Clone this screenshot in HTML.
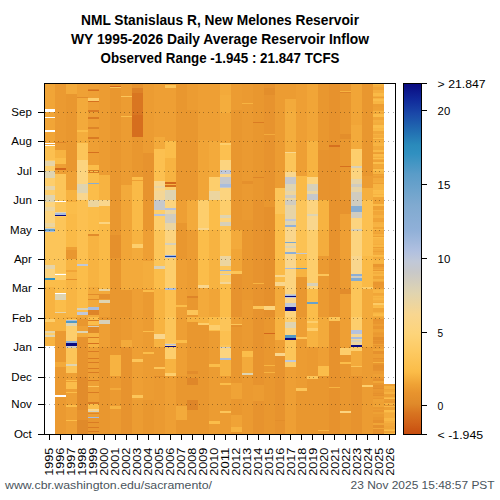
<!DOCTYPE html>
<html><head><meta charset="utf-8"><style>
html,body{margin:0;padding:0;background:#fff;width:500px;height:500px;overflow:hidden}
svg{display:block}
text{font-family:"Liberation Sans",sans-serif}
</style></head><body>
<svg width="500" height="500" viewBox="0 0 500 500" shape-rendering="crispEdges">
<defs><linearGradient id="cb" x1="0" y1="1" x2="0" y2="0"><stop offset="0.0000" stop-color="#c64c0e"/><stop offset="0.0292" stop-color="#d06018"/><stop offset="0.0607" stop-color="#d87420"/><stop offset="0.0881" stop-color="#e08a2a"/><stop offset="0.1196" stop-color="#e8942e"/><stop offset="0.1427" stop-color="#efa235"/><stop offset="0.1784" stop-color="#fbbc48"/><stop offset="0.2373" stop-color="#fdca62"/><stop offset="0.2877" stop-color="#fdd47a"/><stop offset="0.3423" stop-color="#f8d690"/><stop offset="0.4033" stop-color="#e0d4b0"/><stop offset="0.4621" stop-color="#c8c8c8"/><stop offset="0.4937" stop-color="#c0c8d8"/><stop offset="0.5231" stop-color="#b0c0e0"/><stop offset="0.5819" stop-color="#90b0d8"/><stop offset="0.6534" stop-color="#80aad0"/><stop offset="0.7416" stop-color="#5a9cc8"/><stop offset="0.8005" stop-color="#3090c0"/><stop offset="0.8257" stop-color="#2a8abb"/><stop offset="0.8719" stop-color="#2068b0"/><stop offset="0.9140" stop-color="#1a48a8"/><stop offset="0.9560" stop-color="#10289a"/><stop offset="1.0000" stop-color="#0a0a80"/></linearGradient></defs>
<rect x="0" y="0" width="500" height="500" fill="#fff"/>
<g shape-rendering="crispEdges">
<rect x="45" y="83" width="10" height="26" fill="#f1a537"/>
<rect x="45" y="109" width="10" height="3" fill="#ffffff"/>
<rect x="45" y="112" width="10" height="5" fill="#f1a537"/>
<rect x="45" y="117" width="10" height="1" fill="#ffffff"/>
<rect x="45" y="118" width="10" height="12" fill="#f1a537"/>
<rect x="45" y="130" width="10" height="2" fill="#ffffff"/>
<rect x="45" y="132" width="10" height="11" fill="#f1a537"/>
<rect x="45" y="143" width="10" height="1" fill="#ffffff"/>
<rect x="45" y="144" width="10" height="1" fill="#f1a537"/>
<rect x="45" y="145" width="10" height="1" fill="#ffffff"/>
<rect x="45" y="146" width="10" height="14" fill="#fcc050"/>
<rect x="45" y="160" width="10" height="1" fill="#fdce6c"/>
<rect x="45" y="161" width="10" height="5" fill="#e6d4a8"/>
<rect x="45" y="166" width="10" height="5" fill="#fdce6c"/>
<rect x="45" y="171" width="10" height="7" fill="#dfd4b1"/>
<rect x="45" y="178" width="10" height="8" fill="#fdce6c"/>
<rect x="45" y="186" width="10" height="4" fill="#e6d4a8"/>
<rect x="45" y="190" width="10" height="5" fill="#fdce6c"/>
<rect x="45" y="195" width="10" height="7" fill="#dfd4b1"/>
<rect x="45" y="202" width="10" height="5" fill="#fcd47f"/>
<rect x="45" y="207" width="10" height="4" fill="#ecd59f"/>
<rect x="45" y="211" width="10" height="12" fill="#fcd47f"/>
<rect x="45" y="223" width="10" height="4" fill="#ecd59f"/>
<rect x="45" y="227" width="10" height="1" fill="#fdce6c"/>
<rect x="45" y="228" width="10" height="1" fill="#d0ccc0"/>
<rect x="45" y="229" width="10" height="2" fill="#67a1cb"/>
<rect x="45" y="231" width="10" height="1" fill="#a9bdde"/>
<rect x="45" y="232" width="10" height="33" fill="#fcc559"/>
<rect x="45" y="265" width="10" height="4" fill="#e6d4a8"/>
<rect x="45" y="269" width="10" height="9" fill="#fcd47f"/>
<rect x="45" y="278" width="10" height="2" fill="#3391c1"/>
<rect x="45" y="280" width="10" height="7" fill="#fbbd4a"/>
<rect x="45" y="287" width="10" height="32" fill="#f7b341"/>
<rect x="45" y="319" width="10" height="3" fill="#fdce6c"/>
<rect x="45" y="322" width="10" height="9" fill="#f7b341"/>
<rect x="45" y="331" width="10" height="2" fill="#e6d4a8"/>
<rect x="45" y="333" width="10" height="2" fill="#fdce6c"/>
<rect x="45" y="335" width="10" height="2" fill="#dfd4b1"/>
<rect x="45" y="337" width="10" height="9" fill="#f7b341"/>
<rect x="45" y="346" width="10" height="88" fill="#ffffff"/>
<rect x="55" y="83" width="11" height="59" fill="#eb9a31"/>
<rect x="55" y="142" width="11" height="1" fill="#de8528"/>
<rect x="55" y="143" width="11" height="7" fill="#eb9a31"/>
<rect x="55" y="150" width="11" height="8" fill="#f7b341"/>
<rect x="55" y="158" width="11" height="6" fill="#fbbd4a"/>
<rect x="55" y="164" width="11" height="4" fill="#ee9f34"/>
<rect x="55" y="168" width="11" height="2" fill="#d3671b"/>
<rect x="55" y="170" width="11" height="4" fill="#ee9f34"/>
<rect x="55" y="174" width="11" height="27" fill="#fcc559"/>
<rect x="55" y="201" width="11" height="1" fill="#ffffff"/>
<rect x="55" y="202" width="11" height="10" fill="#fcc559"/>
<rect x="55" y="212" width="11" height="1" fill="#dfd4b1"/>
<rect x="55" y="213" width="11" height="2" fill="#a9bdde"/>
<rect x="55" y="215" width="11" height="1" fill="#0a0a80"/>
<rect x="55" y="216" width="11" height="1" fill="#fdce6c"/>
<rect x="55" y="217" width="11" height="56" fill="#fcc559"/>
<rect x="55" y="273" width="11" height="1" fill="#fdce6c"/>
<rect x="55" y="274" width="11" height="1" fill="#ffffff"/>
<rect x="55" y="275" width="11" height="5" fill="#fdce6c"/>
<rect x="55" y="280" width="11" height="13" fill="#fbbd4a"/>
<rect x="55" y="293" width="11" height="1" fill="#ffffff"/>
<rect x="55" y="294" width="11" height="6" fill="#dfd4b1"/>
<rect x="55" y="300" width="11" height="12" fill="#fbbd4a"/>
<rect x="55" y="312" width="11" height="1" fill="#e6d4a8"/>
<rect x="55" y="313" width="11" height="18" fill="#f7b341"/>
<rect x="55" y="331" width="11" height="31" fill="#eb9a31"/>
<rect x="55" y="362" width="11" height="5" fill="#f3aa3b"/>
<rect x="55" y="367" width="11" height="28" fill="#eb9a31"/>
<rect x="55" y="395" width="11" height="2" fill="#ffffff"/>
<rect x="55" y="397" width="11" height="37" fill="#eb9a31"/>
<rect x="66" y="83" width="11" height="11" fill="#f3aa3b"/>
<rect x="66" y="94" width="11" height="77" fill="#e9972f"/>
<rect x="66" y="171" width="11" height="19" fill="#efa135"/>
<rect x="66" y="190" width="11" height="10" fill="#f7b341"/>
<rect x="66" y="200" width="11" height="2" fill="#f4ad3d"/>
<rect x="66" y="202" width="11" height="12" fill="#fbbd4a"/>
<rect x="66" y="214" width="11" height="33" fill="#faba47"/>
<rect x="66" y="247" width="11" height="3" fill="#ee9f34"/>
<rect x="66" y="250" width="11" height="9" fill="#e9972f"/>
<rect x="66" y="259" width="11" height="11" fill="#f8b543"/>
<rect x="66" y="270" width="11" height="2" fill="#f1a537"/>
<rect x="66" y="272" width="11" height="7" fill="#f8b543"/>
<rect x="66" y="279" width="11" height="1" fill="#e5902c"/>
<rect x="66" y="280" width="11" height="37" fill="#f8b543"/>
<rect x="66" y="317" width="11" height="2" fill="#f3aa3b"/>
<rect x="66" y="319" width="11" height="1" fill="#fcc559"/>
<rect x="66" y="320" width="11" height="1" fill="#a9bdde"/>
<rect x="66" y="321" width="11" height="2" fill="#5199c6"/>
<rect x="66" y="323" width="11" height="3" fill="#dfd4b1"/>
<rect x="66" y="326" width="11" height="15" fill="#fdce6c"/>
<rect x="66" y="341" width="11" height="2" fill="#92b1d9"/>
<rect x="66" y="343" width="11" height="3" fill="#0a0a80"/>
<rect x="66" y="346" width="11" height="2" fill="#d0ccc0"/>
<rect x="66" y="348" width="11" height="16" fill="#fcc559"/>
<rect x="66" y="364" width="11" height="2" fill="#dfd4b1"/>
<rect x="66" y="366" width="11" height="7" fill="#fcc559"/>
<rect x="66" y="373" width="11" height="7" fill="#ee9f34"/>
<rect x="66" y="380" width="11" height="1" fill="#fbbd4a"/>
<rect x="66" y="381" width="11" height="1" fill="#ee9f34"/>
<rect x="66" y="382" width="11" height="7" fill="#fbbd4a"/>
<rect x="66" y="389" width="11" height="3" fill="#ee9f34"/>
<rect x="66" y="392" width="11" height="1" fill="#fbbd4a"/>
<rect x="66" y="393" width="11" height="12" fill="#ee9f34"/>
<rect x="66" y="405" width="11" height="2" fill="#fbbd4a"/>
<rect x="66" y="407" width="11" height="13" fill="#ee9f34"/>
<rect x="66" y="420" width="11" height="1" fill="#fbbd4a"/>
<rect x="66" y="421" width="11" height="13" fill="#ee9f34"/>
<rect x="77" y="83" width="11" height="14" fill="#efa135"/>
<rect x="77" y="97" width="11" height="1" fill="#e28c2b"/>
<rect x="77" y="98" width="11" height="32" fill="#f3aa3b"/>
<rect x="77" y="130" width="11" height="2" fill="#fbbd4a"/>
<rect x="77" y="132" width="11" height="11" fill="#f4ad3d"/>
<rect x="77" y="143" width="11" height="17" fill="#fcc559"/>
<rect x="77" y="160" width="11" height="24" fill="#fcd47f"/>
<rect x="77" y="184" width="11" height="9" fill="#dfd4b1"/>
<rect x="77" y="193" width="11" height="7" fill="#f9d68d"/>
<rect x="77" y="200" width="11" height="64" fill="#fcc050"/>
<rect x="77" y="264" width="11" height="2" fill="#c0c8d8"/>
<rect x="77" y="266" width="11" height="42" fill="#fbbd4a"/>
<rect x="77" y="308" width="11" height="2" fill="#d7d0b9"/>
<rect x="77" y="310" width="11" height="2" fill="#fbbd4a"/>
<rect x="77" y="312" width="11" height="3" fill="#c0c8d8"/>
<rect x="77" y="315" width="11" height="2" fill="#f3aa3b"/>
<rect x="77" y="317" width="11" height="2" fill="#f1a537"/>
<rect x="77" y="319" width="11" height="7" fill="#e9972f"/>
<rect x="77" y="326" width="11" height="5" fill="#efa135"/>
<rect x="77" y="331" width="11" height="2" fill="#dfd4b1"/>
<rect x="77" y="333" width="11" height="4" fill="#f4ad3d"/>
<rect x="77" y="337" width="11" height="40" fill="#e7932e"/>
<rect x="77" y="377" width="11" height="33" fill="#e28c2b"/>
<rect x="77" y="410" width="11" height="10" fill="#e6912d"/>
<rect x="77" y="420" width="11" height="14" fill="#e08a2a"/>
<rect x="88" y="83" width="11" height="6" fill="#ee9f34"/>
<rect x="88" y="89" width="11" height="1" fill="#de8528"/>
<rect x="88" y="90" width="11" height="1" fill="#d6701e"/>
<rect x="88" y="91" width="11" height="7" fill="#ee9f34"/>
<rect x="88" y="98" width="11" height="3" fill="#fdce6c"/>
<rect x="88" y="101" width="11" height="1" fill="#d6701e"/>
<rect x="88" y="102" width="11" height="8" fill="#ee9f34"/>
<rect x="88" y="110" width="11" height="2" fill="#da7b23"/>
<rect x="88" y="112" width="11" height="5" fill="#ee9f34"/>
<rect x="88" y="117" width="11" height="2" fill="#da7b23"/>
<rect x="88" y="119" width="11" height="8" fill="#ee9f34"/>
<rect x="88" y="127" width="11" height="2" fill="#de8528"/>
<rect x="88" y="129" width="11" height="8" fill="#ee9f34"/>
<rect x="88" y="137" width="11" height="2" fill="#da7b23"/>
<rect x="88" y="139" width="11" height="13" fill="#ee9f34"/>
<rect x="88" y="152" width="11" height="1" fill="#d6701e"/>
<rect x="88" y="153" width="11" height="12" fill="#ee9f34"/>
<rect x="88" y="165" width="11" height="5" fill="#fbbd4a"/>
<rect x="88" y="170" width="11" height="1" fill="#da7b23"/>
<rect x="88" y="171" width="11" height="1" fill="#fbbd4a"/>
<rect x="88" y="172" width="11" height="1" fill="#da7b23"/>
<rect x="88" y="173" width="11" height="10" fill="#fbbd4a"/>
<rect x="88" y="183" width="11" height="1" fill="#87add3"/>
<rect x="88" y="184" width="11" height="16" fill="#fbbd4a"/>
<rect x="88" y="200" width="11" height="7" fill="#ecd59f"/>
<rect x="88" y="207" width="11" height="27" fill="#fbbd4a"/>
<rect x="88" y="234" width="11" height="2" fill="#e28c2b"/>
<rect x="88" y="236" width="11" height="51" fill="#f7b341"/>
<rect x="88" y="287" width="11" height="7" fill="#f3aa3b"/>
<rect x="88" y="294" width="11" height="1" fill="#e28c2b"/>
<rect x="88" y="295" width="11" height="4" fill="#f3aa3b"/>
<rect x="88" y="299" width="11" height="1" fill="#e28c2b"/>
<rect x="88" y="300" width="11" height="7" fill="#f3aa3b"/>
<rect x="88" y="307" width="11" height="3" fill="#a9bdde"/>
<rect x="88" y="310" width="11" height="5" fill="#de8528"/>
<rect x="88" y="315" width="11" height="2" fill="#f3aa3b"/>
<rect x="88" y="317" width="11" height="3" fill="#fbbd4a"/>
<rect x="88" y="320" width="11" height="1" fill="#da7b23"/>
<rect x="88" y="321" width="11" height="4" fill="#fbbd4a"/>
<rect x="88" y="325" width="11" height="1" fill="#ee9f34"/>
<rect x="88" y="326" width="11" height="1" fill="#d7d0b9"/>
<rect x="88" y="327" width="11" height="6" fill="#e08a2a"/>
<rect x="88" y="333" width="11" height="4" fill="#f7b341"/>
<rect x="88" y="337" width="11" height="1" fill="#da7b23"/>
<rect x="88" y="338" width="11" height="5" fill="#f7b341"/>
<rect x="88" y="343" width="11" height="1" fill="#d6701e"/>
<rect x="88" y="344" width="11" height="3" fill="#f7b341"/>
<rect x="88" y="347" width="11" height="4" fill="#ee9f34"/>
<rect x="88" y="351" width="11" height="1" fill="#da7b23"/>
<rect x="88" y="352" width="11" height="6" fill="#ee9f34"/>
<rect x="88" y="358" width="11" height="1" fill="#da7b23"/>
<rect x="88" y="359" width="11" height="3" fill="#ee9f34"/>
<rect x="88" y="362" width="11" height="1" fill="#da7b23"/>
<rect x="88" y="363" width="11" height="5" fill="#ee9f34"/>
<rect x="88" y="368" width="11" height="1" fill="#da7b23"/>
<rect x="88" y="369" width="11" height="3" fill="#ee9f34"/>
<rect x="88" y="372" width="11" height="1" fill="#da7b23"/>
<rect x="88" y="373" width="11" height="7" fill="#ee9f34"/>
<rect x="88" y="380" width="11" height="1" fill="#da7b23"/>
<rect x="88" y="381" width="11" height="5" fill="#ee9f34"/>
<rect x="88" y="386" width="11" height="1" fill="#fcc559"/>
<rect x="88" y="387" width="11" height="5" fill="#ee9f34"/>
<rect x="88" y="392" width="11" height="1" fill="#da7b23"/>
<rect x="88" y="393" width="11" height="9" fill="#ee9f34"/>
<rect x="88" y="402" width="11" height="2" fill="#da7b23"/>
<rect x="88" y="404" width="11" height="5" fill="#fbbd4a"/>
<rect x="88" y="409" width="11" height="2" fill="#f9d68d"/>
<rect x="88" y="411" width="11" height="1" fill="#d7d0b9"/>
<rect x="88" y="412" width="11" height="1" fill="#ee9f34"/>
<rect x="88" y="413" width="11" height="1" fill="#de8528"/>
<rect x="88" y="414" width="11" height="3" fill="#ee9f34"/>
<rect x="88" y="417" width="11" height="1" fill="#a9bdde"/>
<rect x="88" y="418" width="11" height="4" fill="#e9972f"/>
<rect x="88" y="422" width="11" height="1" fill="#da7b23"/>
<rect x="88" y="423" width="11" height="4" fill="#e9972f"/>
<rect x="88" y="427" width="11" height="1" fill="#da7b23"/>
<rect x="88" y="428" width="11" height="3" fill="#e9972f"/>
<rect x="88" y="431" width="11" height="1" fill="#da7b23"/>
<rect x="88" y="432" width="11" height="2" fill="#e9972f"/>
<rect x="99" y="83" width="11" height="92" fill="#ec9c32"/>
<rect x="99" y="175" width="11" height="25" fill="#f7b341"/>
<rect x="99" y="200" width="11" height="6" fill="#f9d68d"/>
<rect x="99" y="206" width="11" height="16" fill="#faba47"/>
<rect x="99" y="222" width="11" height="2" fill="#fcd47f"/>
<rect x="99" y="224" width="11" height="65" fill="#faba47"/>
<rect x="99" y="289" width="11" height="2" fill="#ecd59f"/>
<rect x="99" y="291" width="11" height="3" fill="#f3aa3b"/>
<rect x="99" y="294" width="11" height="5" fill="#e5902c"/>
<rect x="99" y="299" width="11" height="1" fill="#ee9f34"/>
<rect x="99" y="300" width="11" height="3" fill="#dfd4b1"/>
<rect x="99" y="303" width="11" height="14" fill="#ee9f34"/>
<rect x="99" y="317" width="11" height="3" fill="#e9972f"/>
<rect x="99" y="320" width="11" height="4" fill="#d7d0b9"/>
<rect x="99" y="324" width="11" height="23" fill="#ee9f34"/>
<rect x="99" y="347" width="11" height="87" fill="#e9972f"/>
<rect x="110" y="83" width="11" height="3" fill="#e9972f"/>
<rect x="110" y="86" width="11" height="1" fill="#d3671b"/>
<rect x="110" y="87" width="11" height="1" fill="#fcc559"/>
<rect x="110" y="88" width="11" height="147" fill="#e9972f"/>
<rect x="110" y="235" width="11" height="23" fill="#e5902c"/>
<rect x="110" y="258" width="11" height="97" fill="#e9972f"/>
<rect x="110" y="355" width="11" height="21" fill="#f7b341"/>
<rect x="110" y="376" width="11" height="12" fill="#eb9a31"/>
<rect x="110" y="388" width="11" height="2" fill="#f3aa3b"/>
<rect x="110" y="390" width="11" height="16" fill="#eb9a31"/>
<rect x="110" y="406" width="11" height="3" fill="#f7b341"/>
<rect x="110" y="409" width="11" height="25" fill="#eb9a31"/>
<rect x="121" y="83" width="11" height="13" fill="#ec9c32"/>
<rect x="121" y="96" width="11" height="1" fill="#fcc559"/>
<rect x="121" y="97" width="11" height="19" fill="#ec9c32"/>
<rect x="121" y="116" width="11" height="1" fill="#fbbd4a"/>
<rect x="121" y="117" width="11" height="68" fill="#ec9c32"/>
<rect x="121" y="185" width="11" height="15" fill="#f3aa3b"/>
<rect x="121" y="200" width="11" height="60" fill="#f1a537"/>
<rect x="121" y="260" width="11" height="30" fill="#f3aa3b"/>
<rect x="121" y="290" width="11" height="27" fill="#e9972f"/>
<rect x="121" y="317" width="11" height="23" fill="#eb9a31"/>
<rect x="121" y="340" width="11" height="7" fill="#f3aa3b"/>
<rect x="121" y="347" width="11" height="87" fill="#e7932e"/>
<rect x="132" y="83" width="11" height="5" fill="#e7932e"/>
<rect x="132" y="88" width="11" height="5" fill="#dd8126"/>
<rect x="132" y="93" width="11" height="22" fill="#d97621"/>
<rect x="132" y="115" width="11" height="22" fill="#d66e1e"/>
<rect x="132" y="137" width="11" height="40" fill="#e9972f"/>
<rect x="132" y="177" width="11" height="3" fill="#fbbd4a"/>
<rect x="132" y="180" width="11" height="1" fill="#ee9f34"/>
<rect x="132" y="181" width="11" height="49" fill="#faba47"/>
<rect x="132" y="230" width="11" height="14" fill="#f7b341"/>
<rect x="132" y="244" width="11" height="4" fill="#fdce6c"/>
<rect x="132" y="248" width="11" height="41" fill="#f3aa3b"/>
<rect x="132" y="289" width="11" height="70" fill="#ee9f34"/>
<rect x="132" y="359" width="11" height="3" fill="#fcc559"/>
<rect x="132" y="362" width="11" height="33" fill="#ee9f34"/>
<rect x="132" y="395" width="11" height="3" fill="#fcc559"/>
<rect x="132" y="398" width="11" height="2" fill="#ee9f34"/>
<rect x="132" y="400" width="11" height="34" fill="#ec9c32"/>
<rect x="143" y="83" width="11" height="70" fill="#ec9c32"/>
<rect x="143" y="153" width="11" height="47" fill="#e7932e"/>
<rect x="143" y="200" width="11" height="30" fill="#e9972f"/>
<rect x="143" y="230" width="11" height="31" fill="#ee9f34"/>
<rect x="143" y="261" width="11" height="28" fill="#f4ad3d"/>
<rect x="143" y="289" width="11" height="1" fill="#eb9a31"/>
<rect x="143" y="290" width="11" height="2" fill="#fbbd4a"/>
<rect x="143" y="292" width="11" height="25" fill="#eb9a31"/>
<rect x="143" y="317" width="11" height="14" fill="#ec9c32"/>
<rect x="143" y="331" width="11" height="1" fill="#fbbd4a"/>
<rect x="143" y="332" width="11" height="20" fill="#ec9c32"/>
<rect x="143" y="352" width="11" height="2" fill="#fbbd4a"/>
<rect x="143" y="354" width="11" height="46" fill="#ec9c32"/>
<rect x="143" y="400" width="11" height="34" fill="#e9972f"/>
<rect x="154" y="83" width="11" height="54" fill="#ee9f34"/>
<rect x="154" y="137" width="11" height="12" fill="#f3aa3b"/>
<rect x="154" y="149" width="11" height="32" fill="#fcc050"/>
<rect x="154" y="181" width="11" height="5" fill="#f9d68d"/>
<rect x="154" y="186" width="11" height="2" fill="#ecd59f"/>
<rect x="154" y="188" width="11" height="3" fill="#f9d68d"/>
<rect x="154" y="191" width="11" height="9" fill="#f4d696"/>
<rect x="154" y="200" width="11" height="10" fill="#c6c8cb"/>
<rect x="154" y="210" width="11" height="4" fill="#fdce6c"/>
<rect x="154" y="214" width="11" height="2" fill="#b5c2de"/>
<rect x="154" y="216" width="11" height="14" fill="#fdce6c"/>
<rect x="154" y="230" width="11" height="36" fill="#fcc559"/>
<rect x="154" y="266" width="11" height="3" fill="#d7d0b9"/>
<rect x="154" y="269" width="11" height="20" fill="#fbbd4a"/>
<rect x="154" y="289" width="11" height="45" fill="#f7b341"/>
<rect x="154" y="334" width="11" height="5" fill="#f9d68d"/>
<rect x="154" y="339" width="11" height="8" fill="#f7b341"/>
<rect x="154" y="347" width="11" height="20" fill="#ec9c32"/>
<rect x="154" y="367" width="11" height="2" fill="#fcc559"/>
<rect x="154" y="369" width="11" height="7" fill="#ec9c32"/>
<rect x="154" y="376" width="11" height="1" fill="#e38e2b"/>
<rect x="154" y="377" width="11" height="57" fill="#eb9a31"/>
<rect x="165" y="83" width="11" height="2" fill="#ee9f34"/>
<rect x="165" y="85" width="11" height="3" fill="#fcc559"/>
<rect x="165" y="88" width="11" height="53" fill="#ee9f34"/>
<rect x="165" y="141" width="11" height="17" fill="#fbbd4a"/>
<rect x="165" y="158" width="11" height="24" fill="#f7b341"/>
<rect x="165" y="182" width="11" height="2" fill="#d3671b"/>
<rect x="165" y="184" width="11" height="1" fill="#f7b341"/>
<rect x="165" y="185" width="11" height="2" fill="#d6701e"/>
<rect x="165" y="187" width="11" height="3" fill="#fdce6c"/>
<rect x="165" y="190" width="11" height="10" fill="#dfd4b1"/>
<rect x="165" y="200" width="11" height="8" fill="#fcd47f"/>
<rect x="165" y="208" width="11" height="2" fill="#b5c2de"/>
<rect x="165" y="210" width="11" height="4" fill="#ecd59f"/>
<rect x="165" y="214" width="11" height="9" fill="#d0ccc0"/>
<rect x="165" y="223" width="11" height="7" fill="#ecd59f"/>
<rect x="165" y="230" width="11" height="13" fill="#fcd47f"/>
<rect x="165" y="243" width="11" height="2" fill="#d7d0b9"/>
<rect x="165" y="245" width="11" height="10" fill="#fcd47f"/>
<rect x="165" y="255" width="11" height="1" fill="#a9bdde"/>
<rect x="165" y="256" width="11" height="1" fill="#1842a5"/>
<rect x="165" y="257" width="11" height="1" fill="#c0c8d8"/>
<rect x="165" y="258" width="11" height="30" fill="#fdce6c"/>
<rect x="165" y="288" width="11" height="2" fill="#a9bdde"/>
<rect x="165" y="290" width="11" height="27" fill="#fcc050"/>
<rect x="165" y="317" width="11" height="26" fill="#fcc559"/>
<rect x="165" y="343" width="11" height="1" fill="#fdce6c"/>
<rect x="165" y="344" width="11" height="1" fill="#b5c2de"/>
<rect x="165" y="345" width="11" height="1" fill="#f9d68d"/>
<rect x="165" y="346" width="11" height="1" fill="#0a0a80"/>
<rect x="165" y="347" width="11" height="12" fill="#fdce6c"/>
<rect x="165" y="359" width="11" height="14" fill="#f7b341"/>
<rect x="165" y="373" width="11" height="3" fill="#fdce6c"/>
<rect x="165" y="376" width="11" height="58" fill="#ee9f34"/>
<rect x="176" y="83" width="11" height="117" fill="#e9972f"/>
<rect x="176" y="200" width="11" height="23" fill="#ee9f34"/>
<rect x="176" y="223" width="11" height="36" fill="#e9972f"/>
<rect x="176" y="259" width="11" height="46" fill="#ee9f34"/>
<rect x="176" y="305" width="11" height="2" fill="#fbbd4a"/>
<rect x="176" y="307" width="11" height="33" fill="#ee9f34"/>
<rect x="176" y="340" width="11" height="3" fill="#fbbd4a"/>
<rect x="176" y="343" width="11" height="33" fill="#ee9f34"/>
<rect x="176" y="376" width="11" height="30" fill="#e9972f"/>
<rect x="176" y="406" width="11" height="14" fill="#f3aa3b"/>
<rect x="176" y="420" width="11" height="14" fill="#e9972f"/>
<rect x="187" y="83" width="11" height="27" fill="#ec9c32"/>
<rect x="187" y="110" width="11" height="90" fill="#e9972f"/>
<rect x="187" y="200" width="11" height="30" fill="#f3aa3b"/>
<rect x="187" y="230" width="11" height="66" fill="#ec9c32"/>
<rect x="187" y="296" width="11" height="2" fill="#de8528"/>
<rect x="187" y="298" width="11" height="12" fill="#e9972f"/>
<rect x="187" y="310" width="11" height="5" fill="#fcc559"/>
<rect x="187" y="315" width="11" height="2" fill="#e9972f"/>
<rect x="187" y="317" width="11" height="5" fill="#f7b341"/>
<rect x="187" y="322" width="11" height="49" fill="#e9972f"/>
<rect x="187" y="371" width="11" height="3" fill="#e28c2b"/>
<rect x="187" y="374" width="11" height="4" fill="#e9972f"/>
<rect x="187" y="378" width="11" height="7" fill="#df8729"/>
<rect x="187" y="385" width="11" height="15" fill="#e9972f"/>
<rect x="187" y="400" width="11" height="10" fill="#de8528"/>
<rect x="187" y="410" width="11" height="24" fill="#e9972f"/>
<rect x="198" y="83" width="11" height="57" fill="#ee9f34"/>
<rect x="198" y="140" width="11" height="60" fill="#f1a537"/>
<rect x="198" y="200" width="11" height="28" fill="#fdce6c"/>
<rect x="198" y="228" width="11" height="2" fill="#f9d68d"/>
<rect x="198" y="230" width="11" height="55" fill="#fbbd4a"/>
<rect x="198" y="285" width="11" height="3" fill="#f9d68d"/>
<rect x="198" y="288" width="11" height="29" fill="#f3aa3b"/>
<rect x="198" y="317" width="11" height="6" fill="#f7b341"/>
<rect x="198" y="323" width="11" height="2" fill="#fdce6c"/>
<rect x="198" y="325" width="11" height="109" fill="#e9972f"/>
<rect x="209" y="83" width="11" height="58" fill="#ee9f34"/>
<rect x="209" y="141" width="11" height="36" fill="#f3aa3b"/>
<rect x="209" y="177" width="11" height="14" fill="#fdce6c"/>
<rect x="209" y="191" width="11" height="9" fill="#ecd59f"/>
<rect x="209" y="200" width="11" height="30" fill="#fbbd4a"/>
<rect x="209" y="230" width="11" height="59" fill="#f7b341"/>
<rect x="209" y="289" width="11" height="28" fill="#f1a537"/>
<rect x="209" y="317" width="11" height="8" fill="#fbbd4a"/>
<rect x="209" y="325" width="11" height="5" fill="#fdce6c"/>
<rect x="209" y="330" width="11" height="1" fill="#fbbd4a"/>
<rect x="209" y="331" width="11" height="33" fill="#ec9c32"/>
<rect x="209" y="364" width="11" height="3" fill="#fbbd4a"/>
<rect x="209" y="367" width="11" height="54" fill="#ec9c32"/>
<rect x="209" y="421" width="11" height="3" fill="#fbbd4a"/>
<rect x="209" y="424" width="11" height="10" fill="#ec9c32"/>
<rect x="220" y="83" width="11" height="12" fill="#f3aa3b"/>
<rect x="220" y="95" width="11" height="18" fill="#f4ad3d"/>
<rect x="220" y="113" width="11" height="30" fill="#f1a537"/>
<rect x="220" y="143" width="11" height="2" fill="#fdce6c"/>
<rect x="220" y="145" width="11" height="15" fill="#fcc050"/>
<rect x="220" y="160" width="11" height="10" fill="#fcd47f"/>
<rect x="220" y="170" width="11" height="4" fill="#c0c8d8"/>
<rect x="220" y="174" width="11" height="3" fill="#f9d68d"/>
<rect x="220" y="177" width="11" height="7" fill="#c6c8cb"/>
<rect x="220" y="184" width="11" height="3" fill="#a9bdde"/>
<rect x="220" y="187" width="11" height="1" fill="#c6c8cb"/>
<rect x="220" y="188" width="11" height="12" fill="#fcd47f"/>
<rect x="220" y="200" width="11" height="15" fill="#fdce6c"/>
<rect x="220" y="215" width="11" height="3" fill="#dfd4b1"/>
<rect x="220" y="218" width="11" height="4" fill="#fcd47f"/>
<rect x="220" y="222" width="11" height="4" fill="#d7d0b9"/>
<rect x="220" y="226" width="11" height="30" fill="#fcc559"/>
<rect x="220" y="256" width="11" height="10" fill="#ecd59f"/>
<rect x="220" y="266" width="11" height="4" fill="#fcc559"/>
<rect x="220" y="270" width="11" height="1" fill="#92b1d9"/>
<rect x="220" y="271" width="11" height="3" fill="#fdce6c"/>
<rect x="220" y="274" width="11" height="1" fill="#d0ccc0"/>
<rect x="220" y="275" width="11" height="7" fill="#fdce6c"/>
<rect x="220" y="282" width="11" height="2" fill="#f4d696"/>
<rect x="220" y="284" width="11" height="33" fill="#fbbd4a"/>
<rect x="220" y="317" width="11" height="14" fill="#fcc559"/>
<rect x="220" y="331" width="11" height="14" fill="#fcc050"/>
<rect x="220" y="345" width="11" height="2" fill="#fcc559"/>
<rect x="220" y="347" width="11" height="1" fill="#d0ccc0"/>
<rect x="220" y="348" width="11" height="10" fill="#fcd47f"/>
<rect x="220" y="358" width="11" height="2" fill="#a9bdde"/>
<rect x="220" y="360" width="11" height="16" fill="#f7b341"/>
<rect x="220" y="376" width="11" height="7" fill="#ec9c32"/>
<rect x="220" y="383" width="11" height="2" fill="#fbbd4a"/>
<rect x="220" y="385" width="11" height="26" fill="#ec9c32"/>
<rect x="220" y="411" width="11" height="2" fill="#fcc559"/>
<rect x="220" y="413" width="11" height="21" fill="#ec9c32"/>
<rect x="231" y="83" width="11" height="27" fill="#ec9c32"/>
<rect x="231" y="110" width="11" height="120" fill="#e9972f"/>
<rect x="231" y="230" width="11" height="19" fill="#f3aa3b"/>
<rect x="231" y="249" width="11" height="22" fill="#f1a537"/>
<rect x="231" y="271" width="11" height="3" fill="#fcc559"/>
<rect x="231" y="274" width="11" height="43" fill="#e7932e"/>
<rect x="231" y="317" width="11" height="7" fill="#ee9f34"/>
<rect x="231" y="324" width="11" height="1" fill="#fcc559"/>
<rect x="231" y="325" width="11" height="2" fill="#e5902c"/>
<rect x="231" y="327" width="11" height="56" fill="#e9972f"/>
<rect x="231" y="383" width="11" height="16" fill="#f0a336"/>
<rect x="231" y="399" width="11" height="16" fill="#e9972f"/>
<rect x="231" y="415" width="11" height="12" fill="#f0a336"/>
<rect x="231" y="427" width="11" height="5" fill="#f7b341"/>
<rect x="231" y="432" width="11" height="2" fill="#e9972f"/>
<rect x="242" y="83" width="11" height="20" fill="#eb9a31"/>
<rect x="242" y="103" width="11" height="1" fill="#f7b341"/>
<rect x="242" y="104" width="11" height="77" fill="#eb9a31"/>
<rect x="242" y="181" width="11" height="3" fill="#e5902c"/>
<rect x="242" y="184" width="11" height="36" fill="#eb9a31"/>
<rect x="242" y="220" width="11" height="80" fill="#e9972f"/>
<rect x="242" y="300" width="11" height="51" fill="#eb9a31"/>
<rect x="242" y="351" width="11" height="6" fill="#fbbd4a"/>
<rect x="242" y="357" width="11" height="16" fill="#f3aa3b"/>
<rect x="242" y="373" width="11" height="2" fill="#dfd4b1"/>
<rect x="242" y="375" width="11" height="59" fill="#eb9a31"/>
<rect x="253" y="83" width="11" height="39" fill="#e9972f"/>
<rect x="253" y="122" width="11" height="1" fill="#da7b23"/>
<rect x="253" y="123" width="11" height="54" fill="#e9972f"/>
<rect x="253" y="177" width="11" height="1" fill="#de8528"/>
<rect x="253" y="178" width="11" height="22" fill="#e9972f"/>
<rect x="253" y="200" width="11" height="83" fill="#e7932e"/>
<rect x="253" y="283" width="11" height="1" fill="#f7b341"/>
<rect x="253" y="284" width="11" height="22" fill="#e7932e"/>
<rect x="253" y="306" width="11" height="3" fill="#fcc559"/>
<rect x="253" y="309" width="11" height="76" fill="#e7932e"/>
<rect x="253" y="385" width="11" height="16" fill="#ec9c32"/>
<rect x="253" y="401" width="11" height="33" fill="#e7932e"/>
<rect x="264" y="83" width="11" height="5" fill="#e7932e"/>
<rect x="264" y="88" width="11" height="7" fill="#e38e2b"/>
<rect x="264" y="95" width="11" height="39" fill="#e7932e"/>
<rect x="264" y="134" width="11" height="1" fill="#f3aa3b"/>
<rect x="264" y="135" width="11" height="65" fill="#e7932e"/>
<rect x="264" y="200" width="11" height="7" fill="#e9972f"/>
<rect x="264" y="207" width="11" height="99" fill="#e5902c"/>
<rect x="264" y="306" width="11" height="4" fill="#fcd47f"/>
<rect x="264" y="310" width="11" height="7" fill="#e5902c"/>
<rect x="264" y="317" width="11" height="16" fill="#e9972f"/>
<rect x="264" y="333" width="11" height="1" fill="#d3671b"/>
<rect x="264" y="334" width="11" height="31" fill="#e9972f"/>
<rect x="264" y="365" width="11" height="1" fill="#f7b341"/>
<rect x="264" y="366" width="11" height="6" fill="#e9972f"/>
<rect x="264" y="372" width="11" height="1" fill="#f7b341"/>
<rect x="264" y="373" width="11" height="61" fill="#e9972f"/>
<rect x="275" y="83" width="10" height="105" fill="#ec9c32"/>
<rect x="275" y="188" width="10" height="26" fill="#fcc559"/>
<rect x="275" y="214" width="10" height="45" fill="#fbbd4a"/>
<rect x="275" y="259" width="10" height="16" fill="#faba47"/>
<rect x="275" y="275" width="10" height="2" fill="#f9d68d"/>
<rect x="275" y="277" width="10" height="5" fill="#fbbd4a"/>
<rect x="275" y="282" width="10" height="4" fill="#f9d68d"/>
<rect x="275" y="286" width="10" height="31" fill="#f3aa3b"/>
<rect x="275" y="317" width="10" height="23" fill="#f7b341"/>
<rect x="275" y="340" width="10" height="13" fill="#ee9f34"/>
<rect x="275" y="353" width="10" height="3" fill="#f9d68d"/>
<rect x="275" y="356" width="10" height="64" fill="#e7932e"/>
<rect x="275" y="420" width="10" height="1" fill="#e38e2b"/>
<rect x="275" y="421" width="10" height="13" fill="#e7932e"/>
<rect x="285" y="83" width="11" height="16" fill="#ec9c32"/>
<rect x="285" y="99" width="11" height="12" fill="#f3aa3b"/>
<rect x="285" y="111" width="11" height="41" fill="#f4ad3d"/>
<rect x="285" y="152" width="11" height="1" fill="#f9d68d"/>
<rect x="285" y="153" width="11" height="19" fill="#fcc559"/>
<rect x="285" y="172" width="11" height="5" fill="#f9d68d"/>
<rect x="285" y="177" width="11" height="7" fill="#c6c8cb"/>
<rect x="285" y="184" width="11" height="7" fill="#dfd4b1"/>
<rect x="285" y="191" width="11" height="4" fill="#ecd59f"/>
<rect x="285" y="195" width="11" height="3" fill="#d0ccc0"/>
<rect x="285" y="198" width="11" height="2" fill="#ecd59f"/>
<rect x="285" y="200" width="11" height="5" fill="#d0ccc0"/>
<rect x="285" y="205" width="11" height="14" fill="#e6d4a8"/>
<rect x="285" y="219" width="11" height="2" fill="#c0c8d8"/>
<rect x="285" y="221" width="11" height="4" fill="#dfd4b1"/>
<rect x="285" y="225" width="11" height="2" fill="#92b1d9"/>
<rect x="285" y="227" width="11" height="15" fill="#f9d68d"/>
<rect x="285" y="242" width="11" height="1" fill="#7aa8cf"/>
<rect x="285" y="243" width="11" height="3" fill="#f4d696"/>
<rect x="285" y="246" width="11" height="2" fill="#dfd4b1"/>
<rect x="285" y="248" width="11" height="4" fill="#f9d68d"/>
<rect x="285" y="252" width="11" height="2" fill="#8caed6"/>
<rect x="285" y="254" width="11" height="14" fill="#f9d68d"/>
<rect x="285" y="268" width="11" height="1" fill="#a9bdde"/>
<rect x="285" y="269" width="11" height="25" fill="#fcd47f"/>
<rect x="285" y="294" width="11" height="1" fill="#d0ccc0"/>
<rect x="285" y="295" width="11" height="1" fill="#a9bdde"/>
<rect x="285" y="296" width="11" height="1" fill="#0a0a80"/>
<rect x="285" y="297" width="11" height="1" fill="#c0c8d8"/>
<rect x="285" y="298" width="11" height="5" fill="#f9d68d"/>
<rect x="285" y="303" width="11" height="4" fill="#c0c8d8"/>
<rect x="285" y="307" width="11" height="4" fill="#0a0a80"/>
<rect x="285" y="311" width="11" height="6" fill="#fcd47f"/>
<rect x="285" y="317" width="11" height="5" fill="#fdce6c"/>
<rect x="285" y="322" width="11" height="6" fill="#dfd4b1"/>
<rect x="285" y="328" width="11" height="7" fill="#fcd47f"/>
<rect x="285" y="335" width="11" height="3" fill="#5199c6"/>
<rect x="285" y="338" width="11" height="2" fill="#0a0a80"/>
<rect x="285" y="340" width="11" height="20" fill="#fcc559"/>
<rect x="285" y="360" width="11" height="2" fill="#c0c8d8"/>
<rect x="285" y="362" width="11" height="5" fill="#fdce6c"/>
<rect x="285" y="367" width="11" height="67" fill="#ee9f34"/>
<rect x="296" y="83" width="11" height="93" fill="#ee9f34"/>
<rect x="296" y="176" width="11" height="24" fill="#faba47"/>
<rect x="296" y="200" width="11" height="30" fill="#fcc559"/>
<rect x="296" y="230" width="11" height="23" fill="#fcc253"/>
<rect x="296" y="253" width="11" height="1" fill="#c0c8d8"/>
<rect x="296" y="254" width="11" height="14" fill="#fbbd4a"/>
<rect x="296" y="268" width="11" height="1" fill="#67a1cb"/>
<rect x="296" y="269" width="11" height="8" fill="#f7b341"/>
<rect x="296" y="277" width="11" height="40" fill="#e9972f"/>
<rect x="296" y="317" width="11" height="20" fill="#ee9f34"/>
<rect x="296" y="337" width="11" height="2" fill="#fcc559"/>
<rect x="296" y="339" width="11" height="49" fill="#ec9c32"/>
<rect x="296" y="388" width="11" height="3" fill="#fcc559"/>
<rect x="296" y="391" width="11" height="43" fill="#e9972f"/>
<rect x="307" y="83" width="11" height="58" fill="#f1a537"/>
<rect x="307" y="141" width="11" height="36" fill="#f7b341"/>
<rect x="307" y="177" width="11" height="7" fill="#fcd47f"/>
<rect x="307" y="184" width="11" height="7" fill="#d7d0b9"/>
<rect x="307" y="191" width="11" height="3" fill="#ecd59f"/>
<rect x="307" y="194" width="11" height="6" fill="#c6c8cb"/>
<rect x="307" y="200" width="11" height="14" fill="#fcd47f"/>
<rect x="307" y="214" width="11" height="2" fill="#dfd4b1"/>
<rect x="307" y="216" width="11" height="14" fill="#f9d68d"/>
<rect x="307" y="230" width="11" height="53" fill="#fdce6c"/>
<rect x="307" y="283" width="11" height="3" fill="#d7d0b9"/>
<rect x="307" y="286" width="11" height="3" fill="#fcd47f"/>
<rect x="307" y="289" width="11" height="13" fill="#fbbd4a"/>
<rect x="307" y="302" width="11" height="2" fill="#67a1cb"/>
<rect x="307" y="304" width="11" height="17" fill="#fbbd4a"/>
<rect x="307" y="321" width="11" height="2" fill="#fdce6c"/>
<rect x="307" y="323" width="11" height="5" fill="#fbbd4a"/>
<rect x="307" y="328" width="11" height="3" fill="#fdce6c"/>
<rect x="307" y="331" width="11" height="16" fill="#f7b341"/>
<rect x="307" y="347" width="11" height="29" fill="#eb9a31"/>
<rect x="307" y="376" width="11" height="3" fill="#fcc559"/>
<rect x="307" y="379" width="11" height="55" fill="#e9972f"/>
<rect x="318" y="83" width="11" height="67" fill="#e9972f"/>
<rect x="318" y="150" width="11" height="50" fill="#e7932e"/>
<rect x="318" y="200" width="11" height="30" fill="#f7b341"/>
<rect x="318" y="230" width="11" height="26" fill="#f4ad3d"/>
<rect x="318" y="256" width="11" height="18" fill="#eb9a31"/>
<rect x="318" y="274" width="11" height="2" fill="#fcc559"/>
<rect x="318" y="276" width="11" height="41" fill="#eb9a31"/>
<rect x="318" y="317" width="11" height="30" fill="#f3aa3b"/>
<rect x="318" y="347" width="11" height="19" fill="#ee9f34"/>
<rect x="318" y="366" width="11" height="10" fill="#fbbd4a"/>
<rect x="318" y="376" width="11" height="54" fill="#e9972f"/>
<rect x="318" y="430" width="11" height="1" fill="#f7b341"/>
<rect x="318" y="431" width="11" height="3" fill="#e9972f"/>
<rect x="329" y="83" width="11" height="62" fill="#e7922d"/>
<rect x="329" y="145" width="11" height="2" fill="#d6701e"/>
<rect x="329" y="147" width="11" height="170" fill="#e7922d"/>
<rect x="329" y="317" width="11" height="4" fill="#fcc559"/>
<rect x="329" y="321" width="11" height="66" fill="#e7922d"/>
<rect x="329" y="387" width="11" height="1" fill="#f7b341"/>
<rect x="329" y="388" width="11" height="46" fill="#e7922d"/>
<rect x="340" y="83" width="11" height="8" fill="#e9972f"/>
<rect x="340" y="91" width="11" height="1" fill="#f7b341"/>
<rect x="340" y="92" width="11" height="1" fill="#de8528"/>
<rect x="340" y="93" width="11" height="41" fill="#e9972f"/>
<rect x="340" y="134" width="11" height="5" fill="#e38e2b"/>
<rect x="340" y="139" width="11" height="27" fill="#e9972f"/>
<rect x="340" y="166" width="11" height="1" fill="#d6701e"/>
<rect x="340" y="167" width="11" height="33" fill="#e9972f"/>
<rect x="340" y="200" width="11" height="14" fill="#e7932e"/>
<rect x="340" y="214" width="11" height="45" fill="#ee9f34"/>
<rect x="340" y="259" width="11" height="30" fill="#eb9a31"/>
<rect x="340" y="289" width="11" height="5" fill="#e28c2b"/>
<rect x="340" y="294" width="11" height="54" fill="#ee9f34"/>
<rect x="340" y="348" width="11" height="7" fill="#fdce6c"/>
<rect x="340" y="355" width="11" height="7" fill="#e9972f"/>
<rect x="340" y="362" width="11" height="2" fill="#fbbd4a"/>
<rect x="340" y="364" width="11" height="47" fill="#e9972f"/>
<rect x="340" y="411" width="11" height="2" fill="#fcd47f"/>
<rect x="340" y="413" width="11" height="21" fill="#e9972f"/>
<rect x="351" y="83" width="11" height="42" fill="#f1a537"/>
<rect x="351" y="125" width="11" height="24" fill="#f3aa3b"/>
<rect x="351" y="149" width="11" height="17" fill="#fdce6c"/>
<rect x="351" y="166" width="11" height="2" fill="#d7d0b9"/>
<rect x="351" y="168" width="11" height="11" fill="#fcd47f"/>
<rect x="351" y="179" width="11" height="5" fill="#e6d4a8"/>
<rect x="351" y="184" width="11" height="3" fill="#d0ccc0"/>
<rect x="351" y="187" width="11" height="5" fill="#e6d4a8"/>
<rect x="351" y="192" width="11" height="14" fill="#d0ccc0"/>
<rect x="351" y="206" width="11" height="6" fill="#87add3"/>
<rect x="351" y="212" width="11" height="6" fill="#d0ccc0"/>
<rect x="351" y="218" width="11" height="11" fill="#fcd47f"/>
<rect x="351" y="229" width="11" height="2" fill="#d7d0b9"/>
<rect x="351" y="231" width="11" height="25" fill="#fcd47f"/>
<rect x="351" y="256" width="11" height="18" fill="#f9d68d"/>
<rect x="351" y="274" width="11" height="2" fill="#8caed6"/>
<rect x="351" y="276" width="11" height="2" fill="#d0ccc0"/>
<rect x="351" y="278" width="11" height="3" fill="#82abd1"/>
<rect x="351" y="281" width="11" height="36" fill="#fcc559"/>
<rect x="351" y="317" width="11" height="13" fill="#fdce6c"/>
<rect x="351" y="330" width="11" height="4" fill="#b5c2de"/>
<rect x="351" y="334" width="11" height="3" fill="#f4d696"/>
<rect x="351" y="337" width="11" height="2" fill="#a9bdde"/>
<rect x="351" y="339" width="11" height="1" fill="#ecd59f"/>
<rect x="351" y="340" width="11" height="2" fill="#d7d0b9"/>
<rect x="351" y="342" width="11" height="3" fill="#ecd59f"/>
<rect x="351" y="345" width="11" height="2" fill="#0a0a80"/>
<rect x="351" y="347" width="11" height="4" fill="#fdce6c"/>
<rect x="351" y="351" width="11" height="15" fill="#f3aa3b"/>
<rect x="351" y="366" width="11" height="1" fill="#fcc559"/>
<rect x="351" y="367" width="11" height="9" fill="#ee9f34"/>
<rect x="351" y="376" width="11" height="58" fill="#e7932e"/>
<rect x="362" y="83" width="11" height="93" fill="#e9972f"/>
<rect x="362" y="176" width="11" height="12" fill="#ec9c32"/>
<rect x="362" y="188" width="11" height="12" fill="#f5af3f"/>
<rect x="362" y="200" width="11" height="56" fill="#fcc050"/>
<rect x="362" y="256" width="11" height="31" fill="#faba47"/>
<rect x="362" y="287" width="11" height="2" fill="#fdce6c"/>
<rect x="362" y="289" width="11" height="58" fill="#f3aa3b"/>
<rect x="362" y="347" width="11" height="38" fill="#ec9c32"/>
<rect x="362" y="385" width="11" height="2" fill="#fdce6c"/>
<rect x="362" y="387" width="11" height="47" fill="#ec9c32"/>
<rect x="373" y="83" width="11" height="2" fill="#fbbc48"/>
<rect x="373" y="85" width="11" height="2" fill="#f4ad3d"/>
<rect x="373" y="87" width="11" height="3" fill="#f0a436"/>
<rect x="373" y="90" width="11" height="3" fill="#f5ae3e"/>
<rect x="373" y="93" width="11" height="3" fill="#faba46"/>
<rect x="373" y="96" width="11" height="1" fill="#f4ad3d"/>
<rect x="373" y="97" width="11" height="1" fill="#eea034"/>
<rect x="373" y="98" width="11" height="1" fill="#f7b341"/>
<rect x="373" y="99" width="11" height="2" fill="#fbbd4b"/>
<rect x="373" y="101" width="11" height="3" fill="#f8b543"/>
<rect x="373" y="104" width="11" height="3" fill="#ed9e33"/>
<rect x="373" y="107" width="11" height="3" fill="#eea034"/>
<rect x="373" y="110" width="11" height="1" fill="#f0a436"/>
<rect x="373" y="111" width="11" height="1" fill="#f7b341"/>
<rect x="373" y="112" width="11" height="2" fill="#f2a93a"/>
<rect x="373" y="114" width="11" height="3" fill="#fbbc48"/>
<rect x="373" y="117" width="11" height="3" fill="#f1a537"/>
<rect x="373" y="120" width="11" height="2" fill="#f5af3f"/>
<rect x="373" y="122" width="11" height="1" fill="#f4ae3d"/>
<rect x="373" y="123" width="11" height="2" fill="#f3ac3c"/>
<rect x="373" y="125" width="11" height="3" fill="#fbbe4b"/>
<rect x="373" y="128" width="11" height="1" fill="#f9b744"/>
<rect x="373" y="129" width="11" height="2" fill="#f9b946"/>
<rect x="373" y="131" width="11" height="3" fill="#f1a739"/>
<rect x="373" y="134" width="11" height="1" fill="#f6b140"/>
<rect x="373" y="135" width="11" height="3" fill="#f3ab3c"/>
<rect x="373" y="138" width="11" height="1" fill="#fbbc48"/>
<rect x="373" y="139" width="11" height="1" fill="#f0a537"/>
<rect x="373" y="140" width="11" height="1" fill="#f5ae3e"/>
<rect x="373" y="141" width="11" height="2" fill="#f4ac3c"/>
<rect x="373" y="143" width="11" height="3" fill="#f7b442"/>
<rect x="373" y="146" width="11" height="4" fill="#f2a93a"/>
<rect x="373" y="150" width="11" height="2" fill="#f9b946"/>
<rect x="373" y="152" width="11" height="1" fill="#efa235"/>
<rect x="373" y="153" width="11" height="1" fill="#ed9e33"/>
<rect x="373" y="154" width="11" height="2" fill="#faba47"/>
<rect x="373" y="156" width="11" height="1" fill="#f8b643"/>
<rect x="373" y="157" width="11" height="1" fill="#f4ad3d"/>
<rect x="373" y="158" width="11" height="1" fill="#fbbe4b"/>
<rect x="373" y="159" width="11" height="1" fill="#f4ac3c"/>
<rect x="373" y="160" width="11" height="2" fill="#efa135"/>
<rect x="373" y="162" width="11" height="2" fill="#fbbe4b"/>
<rect x="373" y="164" width="11" height="1" fill="#f1a738"/>
<rect x="373" y="165" width="11" height="3" fill="#f2a839"/>
<rect x="373" y="168" width="11" height="1" fill="#f0a537"/>
<rect x="373" y="169" width="11" height="2" fill="#fbbe4b"/>
<rect x="373" y="171" width="11" height="3" fill="#f7b442"/>
<rect x="373" y="174" width="11" height="1" fill="#ed9f33"/>
<rect x="373" y="175" width="11" height="1" fill="#f0a537"/>
<rect x="373" y="176" width="11" height="2" fill="#ed9e33"/>
<rect x="373" y="178" width="11" height="3" fill="#f2a93a"/>
<rect x="373" y="181" width="11" height="2" fill="#f3ab3c"/>
<rect x="373" y="183" width="11" height="1" fill="#eea034"/>
<rect x="373" y="184" width="11" height="3" fill="#f7b442"/>
<rect x="373" y="187" width="11" height="1" fill="#f7b341"/>
<rect x="373" y="188" width="11" height="2" fill="#f7b442"/>
<rect x="373" y="190" width="11" height="1" fill="#fbbd4a"/>
<rect x="373" y="191" width="11" height="2" fill="#fbbb48"/>
<rect x="373" y="193" width="11" height="1" fill="#fbbc48"/>
<rect x="373" y="194" width="11" height="1" fill="#f7b442"/>
<rect x="373" y="195" width="11" height="2" fill="#fbbd49"/>
<rect x="373" y="197" width="11" height="3" fill="#f1a638"/>
<rect x="373" y="200" width="11" height="1" fill="#efa335"/>
<rect x="373" y="201" width="11" height="3" fill="#f0a436"/>
<rect x="373" y="204" width="11" height="2" fill="#fbbc49"/>
<rect x="373" y="206" width="11" height="3" fill="#eea034"/>
<rect x="373" y="209" width="11" height="1" fill="#eea134"/>
<rect x="373" y="210" width="11" height="1" fill="#f5b03f"/>
<rect x="373" y="211" width="11" height="4" fill="#f1a638"/>
<rect x="373" y="215" width="11" height="3" fill="#f5af3e"/>
<rect x="373" y="218" width="11" height="3" fill="#f0a336"/>
<rect x="373" y="221" width="11" height="1" fill="#efa235"/>
<rect x="373" y="222" width="11" height="2" fill="#f6b140"/>
<rect x="373" y="224" width="11" height="3" fill="#f7b342"/>
<rect x="373" y="227" width="11" height="2" fill="#f0a537"/>
<rect x="373" y="229" width="11" height="1" fill="#f9b845"/>
<rect x="373" y="230" width="11" height="1" fill="#f1a738"/>
<rect x="373" y="231" width="11" height="2" fill="#f1a638"/>
<rect x="373" y="233" width="11" height="1" fill="#f0a336"/>
<rect x="373" y="234" width="11" height="2" fill="#f6b03f"/>
<rect x="373" y="236" width="11" height="1" fill="#eea034"/>
<rect x="373" y="237" width="11" height="1" fill="#fbbc49"/>
<rect x="373" y="238" width="11" height="2" fill="#f8b543"/>
<rect x="373" y="240" width="11" height="4" fill="#f7b241"/>
<rect x="373" y="244" width="11" height="1" fill="#f5ae3e"/>
<rect x="373" y="245" width="11" height="2" fill="#f8b744"/>
<rect x="373" y="247" width="11" height="1" fill="#ed9e33"/>
<rect x="373" y="248" width="11" height="1" fill="#f5af3e"/>
<rect x="373" y="249" width="11" height="2" fill="#f2a93a"/>
<rect x="373" y="251" width="11" height="1" fill="#eea034"/>
<rect x="373" y="252" width="11" height="3" fill="#f3aa3b"/>
<rect x="373" y="255" width="11" height="1" fill="#fbbd49"/>
<rect x="373" y="256" width="11" height="1" fill="#faba46"/>
<rect x="373" y="257" width="11" height="2" fill="#f3aa3b"/>
<rect x="373" y="259" width="11" height="2" fill="#f7b442"/>
<rect x="373" y="261" width="11" height="2" fill="#f8b643"/>
<rect x="373" y="263" width="11" height="1" fill="#f7b341"/>
<rect x="373" y="264" width="11" height="3" fill="#e9962f"/>
<rect x="373" y="267" width="11" height="2" fill="#efa135"/>
<rect x="373" y="269" width="11" height="1" fill="#f2a93a"/>
<rect x="373" y="270" width="11" height="1" fill="#ea9830"/>
<rect x="373" y="271" width="11" height="1" fill="#f9b745"/>
<rect x="373" y="272" width="11" height="2" fill="#f4ae3e"/>
<rect x="373" y="274" width="11" height="2" fill="#f8b543"/>
<rect x="373" y="276" width="11" height="3" fill="#f0a436"/>
<rect x="373" y="279" width="11" height="2" fill="#f6b241"/>
<rect x="373" y="281" width="11" height="1" fill="#f1a638"/>
<rect x="373" y="282" width="11" height="3" fill="#e9962f"/>
<rect x="373" y="285" width="11" height="3" fill="#ea9830"/>
<rect x="373" y="288" width="11" height="1" fill="#ec9d32"/>
<rect x="373" y="289" width="11" height="1" fill="#f5af3f"/>
<rect x="373" y="290" width="11" height="3" fill="#f8b543"/>
<rect x="373" y="293" width="11" height="2" fill="#f1a638"/>
<rect x="373" y="295" width="11" height="1" fill="#f3aa3b"/>
<rect x="373" y="296" width="11" height="1" fill="#f8b643"/>
<rect x="373" y="297" width="11" height="1" fill="#f5b03f"/>
<rect x="373" y="298" width="11" height="2" fill="#f8b543"/>
<rect x="373" y="300" width="11" height="2" fill="#f5af3f"/>
<rect x="373" y="302" width="11" height="1" fill="#f2a93a"/>
<rect x="373" y="303" width="11" height="2" fill="#fdcb65"/>
<rect x="373" y="305" width="11" height="2" fill="#faba47"/>
<rect x="373" y="307" width="11" height="1" fill="#fbbc49"/>
<rect x="373" y="308" width="11" height="4" fill="#f0a537"/>
<rect x="373" y="312" width="11" height="1" fill="#f5af3f"/>
<rect x="373" y="313" width="11" height="1" fill="#f9b744"/>
<rect x="373" y="314" width="11" height="2" fill="#fbbb47"/>
<rect x="373" y="316" width="11" height="1" fill="#f4ad3d"/>
<rect x="373" y="317" width="11" height="2" fill="#f0a436"/>
<rect x="373" y="319" width="11" height="2" fill="#e8932e"/>
<rect x="373" y="321" width="11" height="3" fill="#e9962f"/>
<rect x="373" y="324" width="11" height="2" fill="#ed9d33"/>
<rect x="373" y="326" width="11" height="3" fill="#e9952f"/>
<rect x="373" y="329" width="11" height="1" fill="#eea134"/>
<rect x="373" y="330" width="11" height="2" fill="#efa235"/>
<rect x="373" y="332" width="11" height="1" fill="#ec9c32"/>
<rect x="373" y="333" width="11" height="2" fill="#ea9930"/>
<rect x="373" y="335" width="11" height="2" fill="#ec9b32"/>
<rect x="373" y="337" width="11" height="3" fill="#e38e2b"/>
<rect x="373" y="340" width="11" height="1" fill="#e8942e"/>
<rect x="373" y="341" width="11" height="1" fill="#e38e2b"/>
<rect x="373" y="342" width="11" height="2" fill="#e6912d"/>
<rect x="373" y="344" width="11" height="1" fill="#eea034"/>
<rect x="373" y="345" width="11" height="1" fill="#e8952e"/>
<rect x="373" y="346" width="11" height="3" fill="#ec9b32"/>
<rect x="373" y="349" width="11" height="2" fill="#f0a537"/>
<rect x="373" y="351" width="11" height="1" fill="#e5912d"/>
<rect x="373" y="352" width="11" height="2" fill="#e6912d"/>
<rect x="373" y="354" width="11" height="1" fill="#ed9e33"/>
<rect x="373" y="355" width="11" height="3" fill="#ed9d33"/>
<rect x="373" y="358" width="11" height="1" fill="#e6912d"/>
<rect x="373" y="359" width="11" height="2" fill="#ea9830"/>
<rect x="373" y="361" width="11" height="1" fill="#e9972f"/>
<rect x="373" y="362" width="11" height="1" fill="#f7b341"/>
<rect x="373" y="363" width="11" height="1" fill="#e9972f"/>
<rect x="373" y="364" width="11" height="1" fill="#e8942e"/>
<rect x="373" y="365" width="11" height="3" fill="#e48f2c"/>
<rect x="373" y="368" width="11" height="2" fill="#e5902d"/>
<rect x="373" y="370" width="11" height="1" fill="#e7932e"/>
<rect x="373" y="371" width="11" height="3" fill="#ec9b32"/>
<rect x="373" y="374" width="11" height="3" fill="#eea034"/>
<rect x="373" y="377" width="11" height="2" fill="#e9952f"/>
<rect x="373" y="379" width="11" height="1" fill="#e48f2c"/>
<rect x="373" y="380" width="11" height="1" fill="#e5912d"/>
<rect x="373" y="381" width="11" height="2" fill="#f1a638"/>
<rect x="373" y="383" width="11" height="2" fill="#ea9830"/>
<rect x="373" y="385" width="11" height="2" fill="#e6922d"/>
<rect x="373" y="387" width="11" height="1" fill="#e7932e"/>
<rect x="373" y="388" width="11" height="1" fill="#e38e2c"/>
<rect x="373" y="389" width="11" height="2" fill="#ea9830"/>
<rect x="373" y="391" width="11" height="2" fill="#e9962f"/>
<rect x="373" y="393" width="11" height="1" fill="#e5912d"/>
<rect x="373" y="394" width="11" height="1" fill="#e8942e"/>
<rect x="373" y="395" width="11" height="1" fill="#e5902c"/>
<rect x="373" y="396" width="11" height="2" fill="#ec9c32"/>
<rect x="373" y="398" width="11" height="1" fill="#e9962f"/>
<rect x="373" y="399" width="11" height="3" fill="#efa336"/>
<rect x="373" y="402" width="11" height="3" fill="#eea134"/>
<rect x="373" y="405" width="11" height="2" fill="#f0a537"/>
<rect x="373" y="407" width="11" height="2" fill="#ea9930"/>
<rect x="373" y="409" width="11" height="1" fill="#ed9e33"/>
<rect x="373" y="410" width="11" height="2" fill="#ea9730"/>
<rect x="373" y="412" width="11" height="2" fill="#eea134"/>
<rect x="373" y="414" width="11" height="3" fill="#eb9b31"/>
<rect x="373" y="417" width="11" height="3" fill="#e9972f"/>
<rect x="373" y="420" width="11" height="3" fill="#e6912d"/>
<rect x="373" y="423" width="11" height="2" fill="#f0a537"/>
<rect x="373" y="425" width="11" height="3" fill="#e5912d"/>
<rect x="373" y="428" width="11" height="1" fill="#f1a538"/>
<rect x="373" y="429" width="11" height="3" fill="#e6922d"/>
<rect x="373" y="432" width="11" height="2" fill="#e5912d"/>
<rect x="384" y="83" width="11" height="301" fill="#ffffff"/>
<rect x="384" y="384" width="11" height="2" fill="#eea034"/>
<rect x="384" y="386" width="11" height="3" fill="#f6b140"/>
<rect x="384" y="389" width="11" height="1" fill="#f0a537"/>
<rect x="384" y="390" width="11" height="2" fill="#f2a93a"/>
<rect x="384" y="392" width="11" height="2" fill="#f6b241"/>
<rect x="384" y="394" width="11" height="3" fill="#ed9f33"/>
<rect x="384" y="397" width="11" height="1" fill="#f6b140"/>
<rect x="384" y="398" width="11" height="1" fill="#fbbd49"/>
<rect x="384" y="399" width="11" height="2" fill="#ec9c32"/>
<rect x="384" y="401" width="11" height="1" fill="#ea9930"/>
<rect x="384" y="402" width="11" height="1" fill="#eb9931"/>
<rect x="384" y="403" width="11" height="2" fill="#f6b140"/>
<rect x="384" y="405" width="11" height="1" fill="#ea9730"/>
<rect x="384" y="406" width="11" height="1" fill="#f9b745"/>
<rect x="384" y="407" width="11" height="3" fill="#ed9f33"/>
<rect x="384" y="410" width="11" height="2" fill="#fbbc48"/>
<rect x="384" y="412" width="11" height="1" fill="#f6b140"/>
<rect x="384" y="413" width="11" height="1" fill="#f3ab3c"/>
<rect x="384" y="414" width="11" height="4" fill="#f4ac3c"/>
<rect x="384" y="418" width="11" height="3" fill="#f9b744"/>
<rect x="384" y="421" width="11" height="2" fill="#f5ae3e"/>
<rect x="384" y="423" width="11" height="3" fill="#f2a83a"/>
<rect x="384" y="426" width="11" height="3" fill="#f0a537"/>
<rect x="384" y="429" width="11" height="1" fill="#f5b03f"/>
<rect x="384" y="430" width="11" height="1" fill="#fbbd49"/>
<rect x="384" y="431" width="11" height="2" fill="#f0a336"/>
<rect x="384" y="433" width="11" height="1" fill="#fab946"/>
</g>
<g stroke="#000" stroke-width="1" stroke-dasharray="1 3.4" opacity="0.32"><line x1="45" y1="404.5" x2="395" y2="404.5"/><line x1="45" y1="377.5" x2="395" y2="377.5"/><line x1="45" y1="347.5" x2="395" y2="347.5"/><line x1="45" y1="318.5" x2="395" y2="318.5"/><line x1="45" y1="288.5" x2="395" y2="288.5"/><line x1="45" y1="259.5" x2="395" y2="259.5"/><line x1="45" y1="230.5" x2="395" y2="230.5"/><line x1="45" y1="200.5" x2="395" y2="200.5"/><line x1="45" y1="171.5" x2="395" y2="171.5"/><line x1="45" y1="141.5" x2="395" y2="141.5"/><line x1="45" y1="112.5" x2="395" y2="112.5"/></g>
<rect x="44.5" y="83.5" width="351" height="351" fill="none" stroke="#000" stroke-width="1"/>
<g stroke="#000" stroke-width="1"><line x1="38" y1="434.5" x2="44" y2="434.5"/><line x1="38" y1="404.5" x2="44" y2="404.5"/><line x1="38" y1="377.5" x2="44" y2="377.5"/><line x1="38" y1="347.5" x2="44" y2="347.5"/><line x1="38" y1="318.5" x2="44" y2="318.5"/><line x1="38" y1="288.5" x2="44" y2="288.5"/><line x1="38" y1="259.5" x2="44" y2="259.5"/><line x1="38" y1="230.5" x2="44" y2="230.5"/><line x1="38" y1="200.5" x2="44" y2="200.5"/><line x1="38" y1="171.5" x2="44" y2="171.5"/><line x1="38" y1="141.5" x2="44" y2="141.5"/><line x1="38" y1="112.5" x2="44" y2="112.5"/><line x1="49.50" y1="434" x2="49.50" y2="439.5"/><line x1="60.50" y1="434" x2="60.50" y2="439.5"/><line x1="71.50" y1="434" x2="71.50" y2="439.5"/><line x1="82.50" y1="434" x2="82.50" y2="439.5"/><line x1="93.50" y1="434" x2="93.50" y2="439.5"/><line x1="104.50" y1="434" x2="104.50" y2="439.5"/><line x1="115.50" y1="434" x2="115.50" y2="439.5"/><line x1="126.50" y1="434" x2="126.50" y2="439.5"/><line x1="137.50" y1="434" x2="137.50" y2="439.5"/><line x1="148.50" y1="434" x2="148.50" y2="439.5"/><line x1="159.50" y1="434" x2="159.50" y2="439.5"/><line x1="170.50" y1="434" x2="170.50" y2="439.5"/><line x1="181.50" y1="434" x2="181.50" y2="439.5"/><line x1="192.50" y1="434" x2="192.50" y2="439.5"/><line x1="203.50" y1="434" x2="203.50" y2="439.5"/><line x1="214.50" y1="434" x2="214.50" y2="439.5"/><line x1="225.50" y1="434" x2="225.50" y2="439.5"/><line x1="236.50" y1="434" x2="236.50" y2="439.5"/><line x1="247.50" y1="434" x2="247.50" y2="439.5"/><line x1="258.50" y1="434" x2="258.50" y2="439.5"/><line x1="269.50" y1="434" x2="269.50" y2="439.5"/><line x1="280.50" y1="434" x2="280.50" y2="439.5"/><line x1="290.50" y1="434" x2="290.50" y2="439.5"/><line x1="301.50" y1="434" x2="301.50" y2="439.5"/><line x1="312.50" y1="434" x2="312.50" y2="439.5"/><line x1="323.50" y1="434" x2="323.50" y2="439.5"/><line x1="334.50" y1="434" x2="334.50" y2="439.5"/><line x1="345.50" y1="434" x2="345.50" y2="439.5"/><line x1="356.50" y1="434" x2="356.50" y2="439.5"/><line x1="367.50" y1="434" x2="367.50" y2="439.5"/><line x1="378.50" y1="434" x2="378.50" y2="439.5"/><line x1="389.50" y1="434" x2="389.50" y2="439.5"/><line x1="421" y1="83.5" x2="427" y2="83.5"/><line x1="421" y1="110.5" x2="427" y2="110.5"/><line x1="421" y1="184.5" x2="427" y2="184.5"/><line x1="421" y1="258.5" x2="427" y2="258.5"/><line x1="421" y1="332.5" x2="427" y2="332.5"/><line x1="421" y1="405.5" x2="427" y2="405.5"/><line x1="421" y1="434.5" x2="427" y2="434.5"/></g>
<rect x="403.5" y="83.5" width="18" height="351" fill="url(#cb)" stroke="#000" stroke-width="1"/>
<g font-size="11.5" fill="#000" text-anchor="end"><text x="31.8" y="438.4">Oct</text><text x="31.8" y="408.4">Nov</text><text x="31.8" y="381.4">Dec</text><text x="31.8" y="351.4">Jan</text><text x="31.8" y="322.4">Feb</text><text x="31.8" y="292.4">Mar</text><text x="31.8" y="263.4">Apr</text><text x="31.8" y="234.4">May</text><text x="31.8" y="204.4">Jun</text><text x="31.8" y="175.4">Jul</text><text x="31.8" y="145.4">Aug</text><text x="31.8" y="116.4">Sep</text></g>
<g font-size="11.6" fill="#000" text-anchor="end"><text transform="translate(53.48,447.6) rotate(-90)" x="0" y="0" textLength="28.2" lengthAdjust="spacingAndGlyphs">1995</text><text transform="translate(64.45,447.6) rotate(-90)" x="0" y="0" textLength="28.2" lengthAdjust="spacingAndGlyphs">1996</text><text transform="translate(75.42,447.6) rotate(-90)" x="0" y="0" textLength="28.2" lengthAdjust="spacingAndGlyphs">1997</text><text transform="translate(86.39,447.6) rotate(-90)" x="0" y="0" textLength="28.2" lengthAdjust="spacingAndGlyphs">1998</text><text transform="translate(97.36,447.6) rotate(-90)" x="0" y="0" textLength="28.2" lengthAdjust="spacingAndGlyphs">1999</text><text transform="translate(108.33,447.6) rotate(-90)" x="0" y="0" textLength="28.2" lengthAdjust="spacingAndGlyphs">2000</text><text transform="translate(119.30,447.6) rotate(-90)" x="0" y="0" textLength="28.2" lengthAdjust="spacingAndGlyphs">2001</text><text transform="translate(130.27,447.6) rotate(-90)" x="0" y="0" textLength="28.2" lengthAdjust="spacingAndGlyphs">2002</text><text transform="translate(141.23,447.6) rotate(-90)" x="0" y="0" textLength="28.2" lengthAdjust="spacingAndGlyphs">2003</text><text transform="translate(152.20,447.6) rotate(-90)" x="0" y="0" textLength="28.2" lengthAdjust="spacingAndGlyphs">2004</text><text transform="translate(163.17,447.6) rotate(-90)" x="0" y="0" textLength="28.2" lengthAdjust="spacingAndGlyphs">2005</text><text transform="translate(174.14,447.6) rotate(-90)" x="0" y="0" textLength="28.2" lengthAdjust="spacingAndGlyphs">2006</text><text transform="translate(185.11,447.6) rotate(-90)" x="0" y="0" textLength="28.2" lengthAdjust="spacingAndGlyphs">2007</text><text transform="translate(196.08,447.6) rotate(-90)" x="0" y="0" textLength="28.2" lengthAdjust="spacingAndGlyphs">2008</text><text transform="translate(207.05,447.6) rotate(-90)" x="0" y="0" textLength="28.2" lengthAdjust="spacingAndGlyphs">2009</text><text transform="translate(218.02,447.6) rotate(-90)" x="0" y="0" textLength="28.2" lengthAdjust="spacingAndGlyphs">2010</text><text transform="translate(228.98,447.6) rotate(-90)" x="0" y="0" textLength="28.2" lengthAdjust="spacingAndGlyphs">2011</text><text transform="translate(239.95,447.6) rotate(-90)" x="0" y="0" textLength="28.2" lengthAdjust="spacingAndGlyphs">2012</text><text transform="translate(250.92,447.6) rotate(-90)" x="0" y="0" textLength="28.2" lengthAdjust="spacingAndGlyphs">2013</text><text transform="translate(261.89,447.6) rotate(-90)" x="0" y="0" textLength="28.2" lengthAdjust="spacingAndGlyphs">2014</text><text transform="translate(272.86,447.6) rotate(-90)" x="0" y="0" textLength="28.2" lengthAdjust="spacingAndGlyphs">2015</text><text transform="translate(283.83,447.6) rotate(-90)" x="0" y="0" textLength="28.2" lengthAdjust="spacingAndGlyphs">2016</text><text transform="translate(294.80,447.6) rotate(-90)" x="0" y="0" textLength="28.2" lengthAdjust="spacingAndGlyphs">2017</text><text transform="translate(305.77,447.6) rotate(-90)" x="0" y="0" textLength="28.2" lengthAdjust="spacingAndGlyphs">2018</text><text transform="translate(316.73,447.6) rotate(-90)" x="0" y="0" textLength="28.2" lengthAdjust="spacingAndGlyphs">2019</text><text transform="translate(327.70,447.6) rotate(-90)" x="0" y="0" textLength="28.2" lengthAdjust="spacingAndGlyphs">2020</text><text transform="translate(338.67,447.6) rotate(-90)" x="0" y="0" textLength="28.2" lengthAdjust="spacingAndGlyphs">2021</text><text transform="translate(349.64,447.6) rotate(-90)" x="0" y="0" textLength="28.2" lengthAdjust="spacingAndGlyphs">2022</text><text transform="translate(360.61,447.6) rotate(-90)" x="0" y="0" textLength="28.2" lengthAdjust="spacingAndGlyphs">2023</text><text transform="translate(371.58,447.6) rotate(-90)" x="0" y="0" textLength="28.2" lengthAdjust="spacingAndGlyphs">2024</text><text transform="translate(382.55,447.6) rotate(-90)" x="0" y="0" textLength="28.2" lengthAdjust="spacingAndGlyphs">2025</text><text transform="translate(393.52,447.6) rotate(-90)" x="0" y="0" textLength="28.2" lengthAdjust="spacingAndGlyphs">2026</text></g>
<g font-size="11" fill="#000"><text x="437.6" y="87.8" textLength="48.0" lengthAdjust="spacingAndGlyphs">&gt; 21.847</text><text x="437.6" y="114.8" textLength="12.6" lengthAdjust="spacingAndGlyphs">20</text><text x="437.6" y="188.8" textLength="12.8" lengthAdjust="spacingAndGlyphs">15</text><text x="437.6" y="262.8" textLength="12.8" lengthAdjust="spacingAndGlyphs">10</text><text x="437.6" y="336.8" textLength="5.6" lengthAdjust="spacingAndGlyphs">5</text><text x="437.6" y="409.8" textLength="5.8" lengthAdjust="spacingAndGlyphs">0</text><text x="437.6" y="438.8" textLength="45.5" lengthAdjust="spacingAndGlyphs">&lt; -1.945</text></g>
<g font-weight="bold" font-size="13.8" fill="#000" text-anchor="middle" shape-rendering="auto">
<text x="220" y="24.6" textLength="278" lengthAdjust="spacingAndGlyphs">NML Stanislaus R, New Melones Reservoir</text>
<text x="220" y="43.6" textLength="298" lengthAdjust="spacingAndGlyphs">WY 1995-2026 Daily Average Reservoir Inflow</text>
<text x="220" y="62.7" textLength="239" lengthAdjust="spacingAndGlyphs">Observed Range -1.945 : 21.847 TCFS</text>
</g>
<g font-size="10.5" fill="#4a545c">
<text x="5" y="488.7" textLength="207" lengthAdjust="spacingAndGlyphs">www.cbr.washington.edu/sacramento/</text>
<text x="350.6" y="488.7" textLength="144" lengthAdjust="spacingAndGlyphs">23 Nov 2025 15:48:57 PST</text>
</g>
</svg>
</body></html>
